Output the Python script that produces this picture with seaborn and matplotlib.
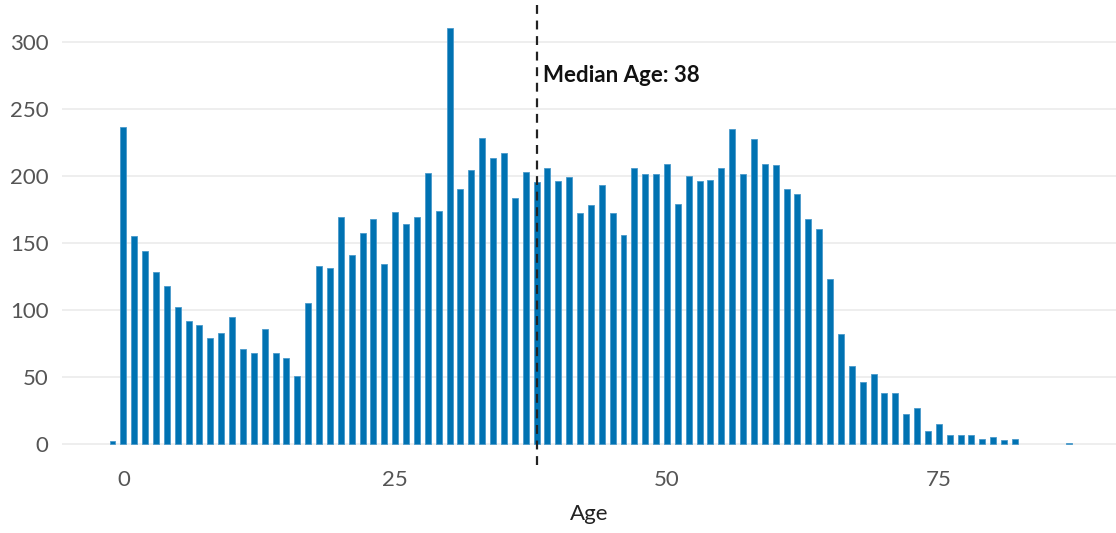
import numpy as np
import pandas as pd
import matplotlib
matplotlib.use('Agg')
import matplotlib.pyplot as plt
import seaborn as sns

# counts per age
ages = list(range(-1, 83)) + [87]
counts = [2, 236,
          155, 144, 128, 118, 102, 92, 89, 79, 83, 95,
          71, 68, 86, 68, 64, 51, 105, 133, 131, 169,
          141, 157, 168, 134, 173, 164, 169, 202, 174, 310,
          190, 204, 228, 213, 217, 183, 203, 195, 206, 196,
          199, 172, 178, 193, 172, 156, 206, 201, 201, 209,
          179, 200, 196, 197, 206, 235, 201, 227, 209, 208,
          190, 186, 168, 160, 123, 82, 58, 46, 52, 38,
          38, 22, 27, 10, 15, 7, 7, 7, 4, 5,
          3, 4, 1]
median_age = 38
x_ticks = [0, 25, 50, 75]
y_ticks = [0, 50, 100, 150, 200, 250, 300]

df = pd.DataFrame({'Age': ages, 'Count': counts})

sns.set_style('white')
plt.rcParams['font.family'] = ['Lato', 'DejaVu Sans']

fig, ax = plt.subplots(figsize=(11.16, 5.33), dpi=100)
fig.subplots_adjust(left=0.056, right=1.0, bottom=0.128, top=0.99)

sns.barplot(data=df, x='Age', y='Count', native_scale=True, width=0.55,
            color='#0072B2', saturation=1, edgecolor='#4a9acb', linewidth=0.6,
            errorbar=None, ax=ax)

ax.axvline(median_age, color='#222222', ls=(0, (4, 3)), lw=1.6, zorder=3)
ax.text(median_age + 0.6, 275, f'Median Age: {median_age}', fontsize=16,
        fontweight='bold', color='#111111', va='center', ha='left')

ax.set_xlim(-5.6, 91.3)
ax.set_ylim(-15.5, 327)
ax.set_xticks(x_ticks)
ax.set_yticks(y_ticks)
ax.tick_params(axis='both', length=0, labelsize=16, labelcolor='#555555')
ax.tick_params(axis='x', pad=4)
ax.tick_params(axis='y', pad=10)
ax.yaxis.grid(True, color='#ebebeb', lw=1.2)
ax.xaxis.grid(False)
ax.set_axisbelow(True)
for s in ax.spines.values():
    s.set_visible(False)
ax.set_xlabel('Age', fontsize=16, color='#222222', labelpad=10)
ax.set_ylabel('')

fig.savefig('out.png', dpi=100)
